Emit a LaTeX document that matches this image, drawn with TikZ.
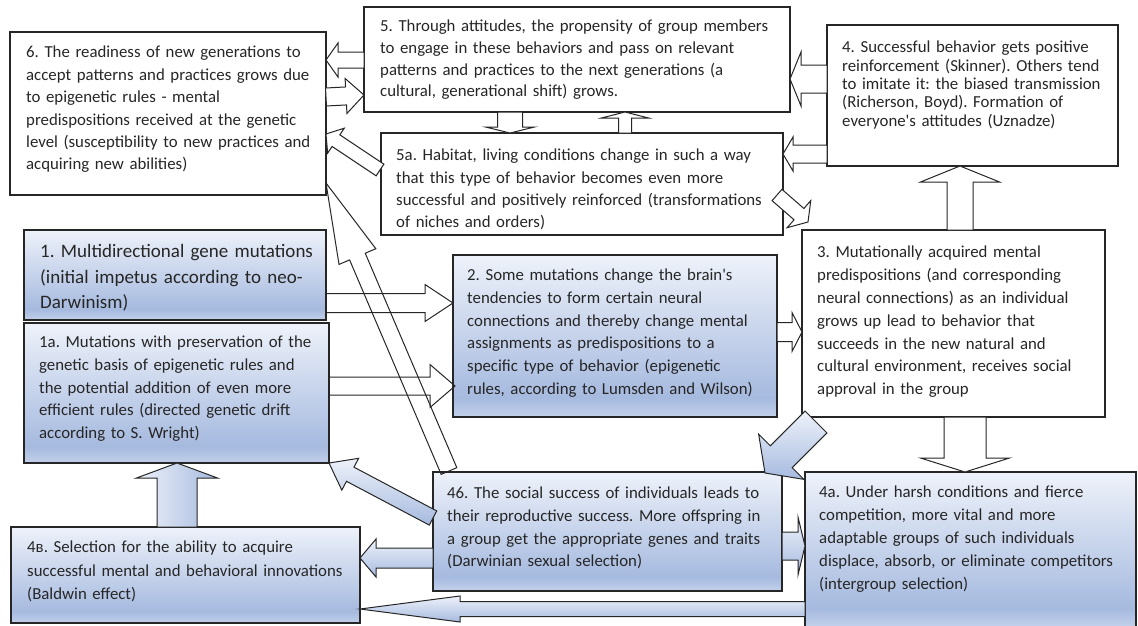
\documentclass[tikz,border=0pt]{standalone}
\usepackage{fontspec}
\setmainfont{Carlito}
\frenchspacing
\usetikzlibrary{calc}

\definecolor{ink}{HTML}{262626}
\definecolor{bluetop}{HTML}{EEF2FA}
\definecolor{bluemid}{HTML}{A6BADF}
\definecolor{bluebot}{HTML}{C2D0EA}
\pgfdeclareverticalshading{boxblue}{100bp}{color(0bp)=(bluebot); color(25bp)=(bluebot); color(31bp)=(bluemid); color(75bp)=(bluetop); color(100bp)=(bluetop)}

% block arrow: [style]{from}{to}{shaft half}{head half}{head length}
\newcommand\blockarrow[6][]{%
  \coordinate (ba-s) at (#2);
  \coordinate (ba-e) at (#3);
  \coordinate (ba-h) at ($(ba-e)!#6!(ba-s)$);
  \path[#1] ($(ba-s)!#4!90:(ba-e)$) -- ($(ba-h)!#4!90:(ba-e)$) -- ($(ba-h)!#5!90:(ba-e)$) -- (ba-e)
    -- ($(ba-h)!#5!-90:(ba-e)$) -- ($(ba-h)!#4!-90:(ba-e)$) -- ($(ba-s)!#4!-90:(ba-e)$) -- cycle;}

\tikzset{
  box/.style={draw=ink, line width=1.1pt, fill=white, anchor=north west, inner sep=0pt, outer sep=0pt},
  bluebox/.style={box, shading=boxblue},
  txt/.style={anchor=north west, inner sep=0pt, text width=430pt, align=left, text=ink,
    font=\fontsize{16.8}{#1}\selectfont},
  txt/.default=22.7,
  warr/.style={draw=ink, line width=1pt, fill=white, line join=miter},
  oarr/.style={draw=ink, line width=1pt, line join=miter},
  barr/.style={draw=ink, line width=1pt, line join=miter, top color=bluetop, bottom color=bluemid},
}

\begin{document}
\begin{tikzpicture}[x=1pt, y=-1pt]
\useasboundingbox (0,0) rectangle (1138,625);

% boxes
\node[box, minimum width=316, minimum height=163] (b6) at (10,32) {};
\node[box, minimum width=426, minimum height=105] (b5) at (364,7) {};
\node[box, minimum width=291, minimum height=141] (b4) at (827,25) {};
\node[box, minimum width=402, minimum height=102] (b5a) at (381,133) {};
\node[bluebox, minimum width=302, minimum height=90] (b1) at (24,230) {};
\node[bluebox, minimum width=305, minimum height=140] (b1a) at (24,323) {};
\node[bluebox, minimum width=324, minimum height=162] (b2) at (453,255) {};
\node[box, minimum width=303, minimum height=187] (b3) at (802,230) {};
\node[bluebox, minimum width=331, minimum height=155] (b4a) at (805,472) {};
\node[bluebox, minimum width=349, minimum height=96] (b4v) at (11,527) {};
\node[bluebox, minimum width=349, minimum height=119] (b46) at (433,472) {};

% texts
\node[txt=22.4] (t6) at ($(b6.north west)+(16,14)$) {6. The readiness of new generations to\\
accept patterns and practices grows due\\ to epigenetic rules - mental\\
predispositions received at the genetic\\ level (susceptibility to new practices and\\
acquiring new abilities)};
\node[txt=21.7] (t5) at ($(b5.north west)+(16,13)$) {5. Through attitudes, the propensity of group members\\
to engage in these behaviors and pass on relevant\\ patterns and practices to the next generations (a\\
cultural, generational shift) grows.};
\node[txt=18.3] (t4) at ($(b4.north west)+(15,16)$) {4. Successful behavior gets positive\\
reinforcement (Skinner). Others tend\\ to imitate it: the biased transmission\\
(Richerson, Boyd). Formation of\\ everyone\textquotesingle s attitudes (Uznadze)};
\node[txt=22.2] (t5a) at ($(b5a.north west)+(15,16)$) {5a. Habitat, living conditions change in such a way\\
that this type of behavior becomes even more\\ successful and positively reinforced (transformations\\
of niches and orders)};
\node[txt, font=\fontsize{19}{25.7}\selectfont] (t1) at ($(b1.north west)+(16,14)$) {1. Multidirectional gene mutations\\
(initial impetus according to neo-\\ Darwinism)};
\node[txt] (t1a) at ($(b1a.north west)+(15,13)$) {1a. Mutations with preservation of the\\
genetic basis of epigenetic rules and\\ the potential addition of even more\\
efficient rules (directed genetic drift\\ according to S. Wright)};
\node[txt] (t2) at ($(b2.north west)+(14,14)$) {2. Some mutations change the brain\textquotesingle s\\
tendencies to form certain neural\\ connections and thereby change mental\\
assignments as predispositions to a\\ specific type of behavior (epigenetic\\
rules, according to Lumsden and Wilson)};
\node[txt=22.8] (t3) at ($(b3.north west)+(15,16)$) {3. Mutationally acquired mental\\
predispositions (and corresponding\\ neural connections) as an individual\\
grows up lead to behavior that\\ succeeds in the new natural and\\
cultural environment, receives social\\ approval in the group};
\node[txt=23] (t4a) at ($(b4a.north west)+(14,14)$) {4a. Under harsh conditions and fierce\\
competition, more vital and more\\ adaptable groups of such individuals\\
displace, absorb, or eliminate competitors\\ (intergroup selection)};
\node[txt=23.3] (t4v) at ($(b4v.north west)+(16,14)$) {4в. Selection for the ability to acquire\\
successful mental and behavioral innovations\\ (Baldwin effect)};
\node[txt] (t46) at ($(b46.north west)+(14,15)$) {46. The social success of individuals leads to\\
their reproductive success. More offspring in\\ a group get the appropriate genes and traits\\
(Darwinian sexual selection)};

% white arrows
\blockarrow[warr]{b5.west |- 0,60}{b6.east |- 0,60}{8pt}{17pt}{12pt}
\blockarrow[warr]{b6.east |- 0,97}{b5.west |- 0,95}{9pt}{17.5pt}{18pt}
\blockarrow[warr]{b4.west |- 0,79}{b5.east |- 0,79}{14pt}{27pt}{11pt}
\blockarrow[warr]{b4.west |- 0,154}{b5a.east |- 0,154}{9pt}{17pt}{10pt}
\blockarrow[warr]{b5.south -| 510,0}{b5a.north -| 510,0}{12.5pt}{24.5pt}{6pt}
\blockarrow[warr]{b5a.north -| 625,0}{b5.south -| 625,0}{6.5pt}{23.5pt}{6pt}
\blockarrow[warr]{380,170}{b6.east |- 0,134}{7pt}{15pt}{12pt}
\blockarrow[oarr]{449,471}{b6.east |- 0,183}{8.5pt}{20pt}{80pt}
\blockarrow[oarr]{b1.east |- 0,303}{b2.west |- 0,303}{9.5pt}{18.5pt}{28pt}
\blockarrow[oarr]{b1a.east |- 0,386}{455,386}{9pt}{21.5pt}{25pt}
\blockarrow[warr]{b2.east |- 0,332}{b3.west |- 0,332}{9.5pt}{19.5pt}{10pt}
\blockarrow[warr]{b3.north -| 960,0}{b4.south -| 960,0}{13pt}{39.5pt}{16pt}
\blockarrow[warr]{b3.south -| 965,0}{b4a.north -| 965,0}{21pt}{44.5pt}{14pt}
\blockarrow[warr]{777,195}{808,222}{7.5pt}{18pt}{12pt}

% blue arrows
\blockarrow[barr]{816,422}{765,473}{15.5pt}{32pt}{23pt}
\blockarrow[barr]{433,518}{b1a.south east}{8pt}{18pt}{24pt}
\blockarrow[barr]{b46.west |- 0,558}{b4v.east |- 0,558}{10pt}{19pt}{16pt}
\blockarrow[barr]{b4a.west |- 0,609}{b4v.east |- 0,609}{7.5pt}{13pt}{100pt}
\blockarrow[barr]{b46.east |- 0,546}{b4a.west |- 0,546}{14pt}{29pt}{7pt}
\blockarrow[barr, shading angle=90]{b4v.north -| 177,0}{b1a.south -| 177,0}{20pt}{40.5pt}{15pt}
\end{tikzpicture}
\end{document}
